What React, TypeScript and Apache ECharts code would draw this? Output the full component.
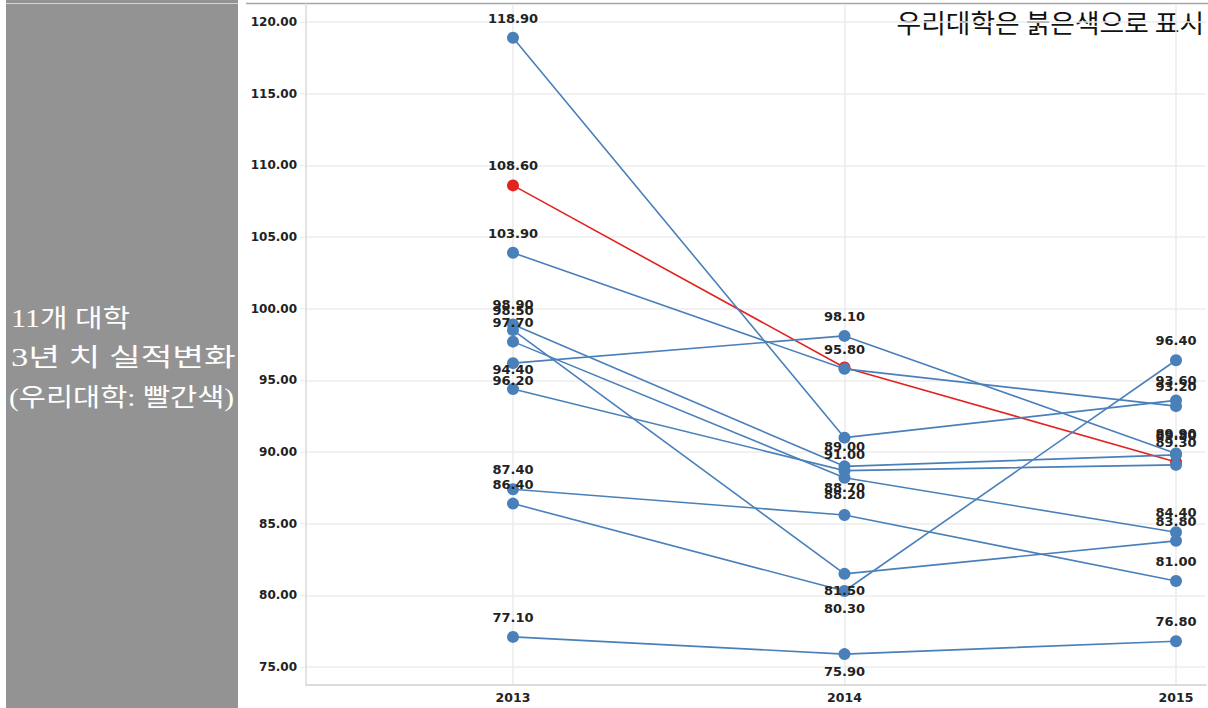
import React, { useEffect, useRef } from "react";
import * as echarts from "echarts";

// ---- data ----
const years = [2013, 2014, 2015];
const yTicks = [75, 80, 85, 90, 95, 100, 105, 110, 115, 120];

const ourUniversity = [108.6, 95.9, 89.3];
const univA = [118.9, 91.0, 93.6];
const univB = [103.9, 95.8, 93.2];
const univC = [96.2, 98.1, 89.9];
const univD = [98.9, 89.0, 89.8];
const univE = [98.5, 81.5, 83.8];
const univF = [97.7, 88.2, 84.4];
const univG = [94.4, 88.7, 89.1];
const univH = [87.4, 85.6, 81.0];
const univI = [86.4, 80.3, 96.4];
const univJ = [77.1, 75.9, 76.8];

const seriesNames = ["우리대학", "대학A", "대학B", "대학C", "대학D", "대학E", "대학F", "대학G", "대학H", "대학I", "대학J"];
const seriesValues = [ourUniversity, univA, univB, univC, univD, univE, univF, univG, univH, univI, univJ];

// label placement per point (style, kept apart from the values)
const labelSides: string[][] = [
  ["top", "none", "top"],
  ["top", "bottom", "top"],
  ["top", "top", "top"],
  ["bottom", "top", "top"],
  ["top", "top", "top"],
  ["top", "bottom", "top"],
  ["top", "bottom", "top"],
  ["top", "bottom", "none"],
  ["top", "none", "top"],
  ["top", "bottom", "top"],
  ["top", "bottom", "top"],
];

const BLUE = "#4a80ba";
const RED = "#e3231f";
const PANEL_FONT = '"Liberation Serif", "Noto Sans CJK KR"';

export default function App() {
  const ref = useRef<HTMLDivElement>(null);

  useEffect(() => {
    if (!ref.current) return;
    const chart = echarts.init(ref.current, undefined, { renderer: "svg" });

    const series = seriesValues.map((vals, si) => ({
      name: seriesNames[si],
      type: "line",
      z: si === 0 ? 2 : 3,
      symbol: "circle",
      symbolSize: 12,
      itemStyle: { color: si === 0 ? RED : BLUE },
      lineStyle: { color: si === 0 ? RED : BLUE, width: 1.6 },
      emphasis: { disabled: true },
      data: vals.map((v, i) => {
        const side = labelSides[si][i];
        return {
          value: [years[i], v],
          label: {
            show: side !== "none",
            position: side === "bottom" ? "bottom" : "top",
            distance: side === "bottom" ? 4.5 : 7,
          },
        };
      }),
      label: {
        formatter: (p: any) => p.value[1].toFixed(2),
        color: "#222",
        fontFamily: "DejaVu Sans",
        fontWeight: "bold",
        fontSize: 13,
      },
    }));

    const panelText = (text: string, x: number, y: number, scaleX: number) => ({
      type: "text",
      x,
      y,
      scaleX,
      style: { text, fill: "#ffffff", fontSize: 25, fontFamily: PANEL_FONT, verticalAlign: "middle" },
    });

    chart.setOption({
      animation: false,
      backgroundColor: "#ffffff",
      grid: { left: 306, right: 2, top: 4, bottom: 23 },
      xAxis: {
        type: "value",
        min: 2012.3756,
        max: 2015.0905,
        axisLine: { show: true, lineStyle: { color: "#cfcfcf", width: 1.5 } },
        axisTick: { show: false, customValues: years },
        axisLabel: {
          customValues: years,
          formatter: (v: number) => String(Math.round(v)),
          color: "#222",
          fontFamily: "DejaVu Sans",
          fontWeight: "bold",
          fontSize: 12.5,
          margin: 6,
        },
        splitLine: { show: true, lineStyle: { color: "#ebebeb", width: 1.5 } },
      },
      yAxis: {
        type: "value",
        min: 73.744,
        max: 121.256,
        axisLine: { show: true, lineStyle: { color: "#dadada", width: 1.5 } },
        axisTick: { show: true, length: 6, customValues: yTicks, lineStyle: { color: "#e8e8e8" } },
        axisLabel: {
          customValues: yTicks,
          formatter: (v: number) => v.toFixed(2),
          color: "#222",
          fontFamily: "DejaVu Sans",
          fontWeight: "bold",
          fontSize: 12,
          margin: 9,
        },
        splitLine: { show: true, lineStyle: { color: "#ededed", width: 1.5 } },
      },
      graphic: [
        { type: "rect", shape: { x: 6, y: 0, width: 232, height: 708 }, style: { fill: "#939393" }, z: -1 },
        { type: "line", shape: { x1: 6, y1: 3.5, x2: 238, y2: 3.5 }, style: { stroke: "#d4d4d4", lineWidth: 1.2 } },
        { type: "line", shape: { x1: 246, y1: 3.5, x2: 1208, y2: 3.5 }, style: { stroke: "#a6a6a6", lineWidth: 1.5 } },
        panelText("11개 대학", 11, 318, 1.2),
        panelText("3년 치 실적변화", 11, 358, 1.38),
        panelText("(우리대학: 빨간색)", 9, 398, 1.18),
        {
          type: "text",
          x: 1204,
          y: 22,
          scaleX: 1.03,
          style: { text: "우리대학은 붉은색으로 표시", fill: "#111111", fontSize: 26, fontFamily: '"Noto Sans CJK KR"', align: "right", verticalAlign: "middle" },
        },
      ],
      series,
    });

    return () => chart.dispose();
  }, []);

  return (
    <div
      ref={ref}
      style={{ position: "fixed", left: 0, top: 0, width: 1208, height: 708, background: "#fff" }}
    />
  );
}
